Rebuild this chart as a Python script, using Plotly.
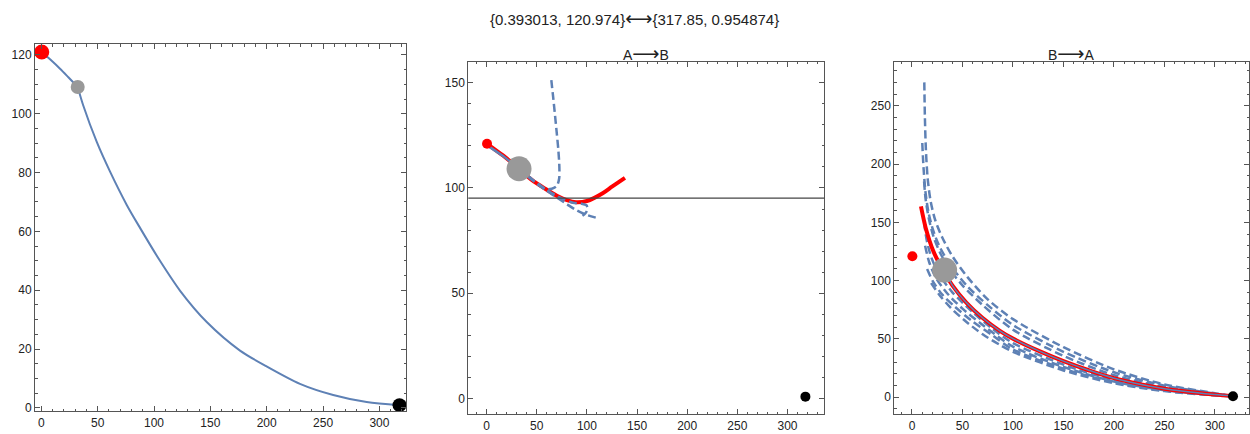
import plotly.graph_objects as go

# ---------------- data ----------------
ARROW_LR = "\u27f7"
ARROW_R = "\u27f6"
TITLE_LEFT = "{0.393013, 120.974}"
TITLE_RIGHT = "{317.85, 0.954874}"
PANEL_TITLES = [("", ""), ("A", "B"), ("B", "A")]

point_a = (0.393013, 120.974)      # red point
point_b = (317.85, 0.954874)       # black point
point_mid = (32.3, 109.1)          # grey point

# panel 1: path (two pieces, joined at the grey point)
p1a_x = [0.39, 8.0, 16.6, 24.0, 32.3]
p1a_y = [120.97, 118.4, 115.3, 112.4, 109.1]
p1b_x = [32.3, 37.3, 49.2, 61.0, 75.8, 87.6, 105.3, 123.0, 146.8, 176.3, 200.0, 229.5, 259.0, 288.7, 317.85]
p1b_y = [109.1, 102.7, 90.4, 80.3, 69.0, 61.2, 50.0, 39.9, 29.2, 19.5, 14.1, 8.2, 4.4, 2.0, 0.95]

# panel 2: A -> B
p2_red_x = [0.39, 16.6, 32.3, 45.0, 58.0, 70.0, 80.0, 89.0, 100.0, 115.7, 125.0, 137.9]
p2_red_y = [120.97, 115.3, 109.1, 103.8, 99.7, 96.3, 94.2, 93.2, 93.8, 97.5, 100.6, 104.8]
p2_blue_x = [0.39, 16.6, 32.3]
p2_blue_y = [120.2, 115.0, 109.1]
p2_dash1_x = [64.5, 67.0, 69.5, 71.5, 72.5, 72.3, 70.0, 65.0, 58.0, 45.0, 32.3]
p2_dash1_y = [151.2, 140.0, 128.0, 118.0, 110.0, 104.5, 101.0, 99.6, 99.5, 104.0, 109.1]
p2_dash2_x = [32.3, 45.0, 58.0, 70.0, 80.0, 90.0, 100.0, 112.6]
p2_dash2_y = [109.1, 104.0, 99.3, 95.5, 92.3, 89.3, 87.2, 85.4]
p2_dash3_x = [32.3, 45.0, 60.0, 75.0, 86.0, 94.0, 99.5, 100.5, 98.5, 95.5]
p2_dash3_y = [109.1, 104.3, 99.0, 95.0, 93.0, 92.6, 91.8, 89.8, 88.0, 86.8]
p2_hline = 95.2

# panel 3: B -> A
p3_red_x = [8.9, 13.6, 21.1, 31.0, 40.0, 54.0, 70.0, 87.0, 100.0, 125.0, 150.0, 175.0, 200.0, 250.0, 300.0, 317.85]
p3_red_y = [163.6, 145.2, 125.4, 108.4, 96.0, 81.0, 68.0, 57.0, 50.3, 40.0, 31.0, 23.2, 16.4, 7.4, 2.3, 0.95]
p3_blue_x = [32.3, 40.0, 54.0, 70.0, 87.0, 100.0, 125.0, 150.0, 175.0, 200.0, 250.0, 300.0, 317.85]
p3_blue_y = [109.1, 96.0, 81.0, 68.0, 57.0, 50.3, 40.0, 31.0, 23.2, 16.4, 7.4, 2.3, 0.95]
p3_dash_x = [
    [12.2, 12.8, 13.8, 15.5, 18.5, 23.0, 30.0, 40.0, 55.0, 75.0, 100.0, 150.0, 200.0, 250.0, 300.0, 317.85],
    [10.2, 11.5, 13.5, 16.5, 21.0, 28.0, 40.0, 55.0, 75.0, 100.0, 150.0, 200.0, 250.0, 300.0, 317.85],
    [12.0, 13.5, 17.0, 22.0, 29.0, 38.0, 50.0, 70.0, 100.0, 150.0, 200.0, 250.0, 300.0, 317.85],
    [12.0, 15.0, 20.0, 28.0, 40.0, 60.0, 80.0, 100.0, 150.0, 200.0, 250.0, 300.0, 317.85],
    [13.0, 17.0, 24.0, 35.0, 50.0, 70.0, 100.0, 150.0, 200.0, 250.0, 300.0, 317.85],
    [15.0, 21.0, 30.0, 42.0, 60.0, 80.0, 100.0, 150.0, 200.0, 250.0, 300.0, 317.85],
    [19.0, 27.0, 38.0, 52.0, 70.0, 87.0, 100.0, 150.0, 200.0, 250.0, 300.0, 317.85],
]
p3_dash_y = [
    [270.0, 240.0, 212.0, 188.0, 168.0, 152.0, 137.0, 121.0, 103.0, 84.0, 67.0, 43.0, 24.0, 11.0, 3.5, 0.95],
    [218.0, 196.0, 175.0, 158.0, 143.0, 128.0, 111.0, 95.0, 79.0, 62.0, 39.0, 21.5, 10.0, 3.2, 0.95],
    [185.0, 170.0, 152.0, 136.0, 122.0, 109.0, 96.0, 79.0, 58.0, 35.5, 19.0, 8.7, 2.8, 0.95],
    [150.0, 133.0, 118.0, 104.0, 90.0, 73.0, 58.5, 46.5, 28.0, 14.5, 6.5, 2.0, 0.95],
    [130.0, 116.0, 102.0, 89.0, 76.0, 62.0, 43.5, 26.0, 13.5, 6.0, 1.9, 0.95],
    [110.0, 99.0, 88.0, 78.0, 65.0, 53.0, 41.0, 24.5, 12.8, 5.6, 1.8, 0.95],
    [98.0, 88.0, 77.0, 66.0, 54.0, 45.0, 39.0, 23.0, 12.0, 5.3, 1.7, 0.95],
]

# ---------------- styles ----------------
BLUE = "#5E81B5"
RED = "#FF0000"
GREY = "#999999"
FRAME = "#555555"
TEXT = "#222222"
FONT = "Liberation Sans, Arial, sans-serif"

fig = go.Figure()

def pts(xs, ys, color, size, ax):
    fig.add_trace(go.Scatter(x=xs, y=ys, mode="markers", showlegend=False, hoverinfo="skip",
                             marker=dict(color=color, size=size, line=dict(width=0)),
                             xaxis=ax[0], yaxis=ax[1]))

def line(xs, ys, color, width, ax, dash="solid"):
    fig.add_trace(go.Scatter(x=xs, y=ys, mode="lines", showlegend=False, hoverinfo="skip",
                             line=dict(color=color, width=width, dash=dash, shape="spline", smoothing=0.8),
                             xaxis=ax[0], yaxis=ax[1]))

A1 = ("x", "y")
A2 = ("x2", "y2")
A3 = ("x3", "y3")
DASH = "8px,4px"

# panel 1
line(p1a_x, p1a_y, BLUE, 2, A1)
line(p1b_x, p1b_y, BLUE, 2, A1)
pts([point_a[0]], [point_a[1]], RED, 15, A1)
pts([point_mid[0]], [point_mid[1]], GREY, 14, A1)
pts([point_b[0]], [point_b[1]], "black", 14, A1)

# panel 2
line(p2_red_x, p2_red_y, RED, 4, A2)
line(p2_blue_x, p2_blue_y, BLUE, 2.5, A2)
line(p2_dash1_x, p2_dash1_y, BLUE, 2.5, A2, DASH)
line(p2_dash2_x, p2_dash2_y, BLUE, 2.5, A2, DASH)
line(p2_dash3_x, p2_dash3_y, BLUE, 2.5, A2, DASH)
pts([point_a[0]], [point_a[1]], RED, 10, A2)
pts([point_mid[0]], [point_mid[1]], GREY, 25, A2)
pts([point_b[0]], [point_b[1]], "black", 10, A2)

# panel 3
for dx, dy in zip(p3_dash_x, p3_dash_y):
    line(dx, dy, BLUE, 2.5, A3, DASH)
line(p3_red_x, p3_red_y, RED, 4, A3)
line(p3_blue_x, p3_blue_y, BLUE, 1.5, A3)
pts([point_a[0]], [point_a[1]], RED, 10, A3)
pts([point_mid[0]], [point_mid[1]], GREY, 25, A3)
pts([point_b[0]], [point_b[1]], "black", 10, A3)

fig.add_shape(type="line", xref="x2 domain", yref="y2", x0=0, x1=1, y0=p2_hline, y1=p2_hline,
              line=dict(color="#444444", width=1.3))

def axis(domain, rng, dtick, minor, anchor):
    return dict(domain=domain, range=rng, dtick=dtick, tick0=0, anchor=anchor,
                showgrid=False, zeroline=False, showline=True, linecolor=FRAME, linewidth=1,
                mirror="allticks", ticks="inside", ticklen=5, tickwidth=1, tickcolor=FRAME,
                minor=dict(dtick=minor, tick0=0, ticks="inside", ticklen=2.5, tickwidth=1, tickcolor=FRAME, showgrid=False),
                tickfont=dict(family=FONT, size=12, color=TEXT))

def arrow_text(left, arrow, right, size):
    return (left + "<span style='font-family:DejaVu Sans;font-size:%dpx'>" % size + arrow + "</span>" + right)

W, H = 1250, 434
d1x = [35 / W, 406 / W]
d2x = [468.3 / W, 824.3 / W]
d3x = [894.3 / W, 1249.3 / W]
d1y = [(H - 415) / H, (H - 44.7) / H]
d23y = [(H - 418.3) / H, (H - 62.3) / H]

fig.update_layout(
    width=W, height=H, margin=dict(l=0, r=0, t=0, b=0),
    paper_bgcolor="white", plot_bgcolor="white", showlegend=False,
    font=dict(family=FONT, size=12, color=TEXT),
    xaxis=axis(d1x, [-5.6, 323.6], 50, 10, "y"),
    yaxis=axis(d1y, [-1.1, 123.6], 20, 5, "x"),
    xaxis2=axis(d2x, [-18.3, 336.7], 50, 10, "y2"),
    yaxis2=axis(d23y, [-7.5, 159.9], 50, 10, "x2"),
    xaxis3=axis(d3x, [-17.5, 334.0], 50, 10, "y3"),
    yaxis3=axis(d23y, [-14.7, 287.7], 50, 10, "x3"),
    annotations=[
        dict(text=arrow_text(TITLE_LEFT, ARROW_LR, TITLE_RIGHT, 19), x=634 / W, y=1 - 18 / H,
             xref="paper", yref="paper", showarrow=False,
             font=dict(family=FONT, size=15, color=TEXT), xanchor="center", yanchor="middle"),
        dict(text=arrow_text(PANEL_TITLES[1][0], ARROW_R, PANEL_TITLES[1][1], 19),
             x=(d2x[0] + d2x[1]) / 2, y=1 - 53.3 / H, xref="paper", yref="paper",
             showarrow=False, font=dict(family=FONT, size=14, color=TEXT), xanchor="center", yanchor="middle"),
        dict(text=arrow_text(PANEL_TITLES[2][0], ARROW_R, PANEL_TITLES[2][1], 19),
             x=(d3x[0] + d3x[1]) / 2, y=1 - 53.3 / H, xref="paper", yref="paper",
             showarrow=False, font=dict(family=FONT, size=14, color=TEXT), xanchor="center", yanchor="middle"),
    ],
)

fig.write_html("out.html", config={"displayModeBar": False},
               post_script="document.body.style.margin='0px';document.body.style.overflow='hidden';")
